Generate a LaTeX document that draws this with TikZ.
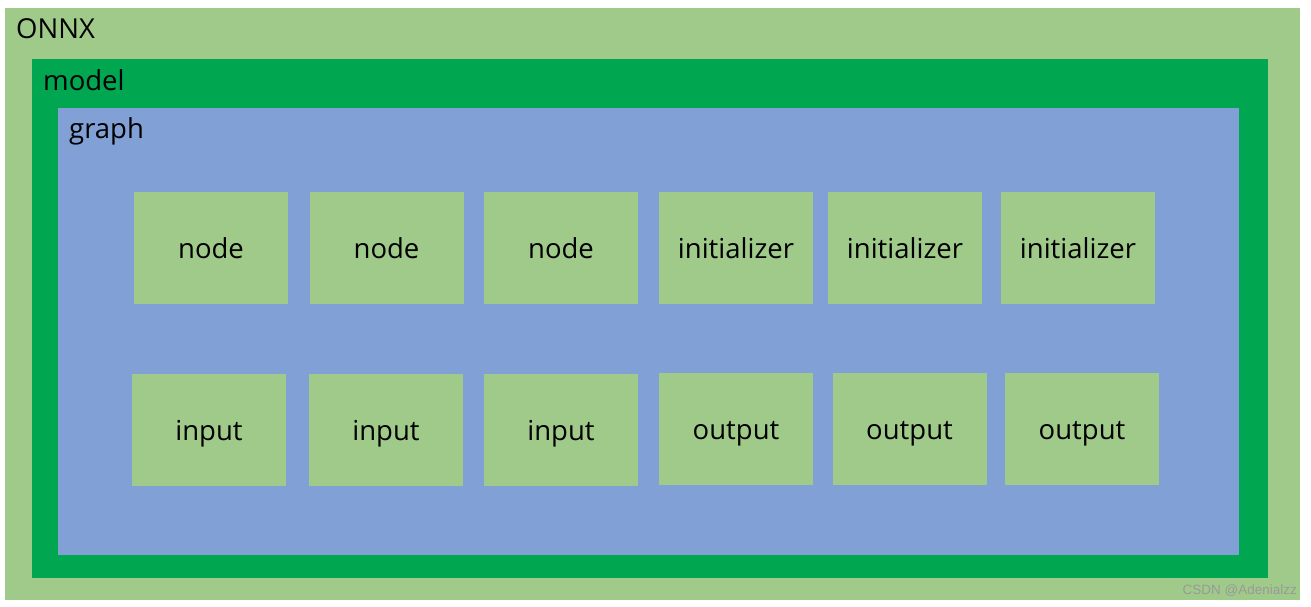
\documentclass[tikz,border=0pt]{standalone}
\usepackage{fontspec}
\setmainfont{Open Sans}
\newfontfamily\wmfont{Liberation Sans}
\definecolor{lgreen}{RGB}{160,202,138}
\definecolor{dgreen}{RGB}{0,166,80}
\definecolor{gblue}{RGB}{128,160,214}
\tikzset{
  layer/.style={rectangle, anchor=north west, inner sep=0pt, draw=none},
  lbl/.style={anchor=base west, inner sep=0pt, font=\fontsize{27.5}{30}\selectfont},
  itembox/.style={rectangle, fill=lgreen, inner sep=0pt, minimum width=154pt, minimum height=112pt,
    text height=20pt, text depth=0pt, font=\fontsize{27.5}{30}\selectfont}
}
\begin{document}
\begin{tikzpicture}[x=1pt,y=-1pt]
\useasboundingbox[fill=white] (0,0) rectangle (1311,606);
\node[layer, fill=lgreen, minimum width=1295pt, minimum height=592pt] (onnx) at (5,8) {};
\node[layer, fill=dgreen, minimum width=1236pt, minimum height=519pt] (model) at (32,59) {};
\node[layer, fill=gblue, minimum width=1181pt, minimum height=447pt] (graph) at (58,108) {};
\node[lbl] (onnxlbl) at (16,38) {ONNX};
\node[lbl] (modellbl) at (43,90) {model};
\node[lbl] (graphlbl) at (69,138) {graph};
\node[itembox] (n1) at (211,248) {node};
\node[itembox] (n2) at (386.5,248) {node};
\node[itembox] (n3) at (561,248) {node};
\node[itembox] (i1) at (736,248) {initializer};
\node[itembox] (i2) at (905,248) {initializer};
\node[itembox] (i3) at (1078,248) {initializer};
\node[itembox] (in1) at (209,430) {input};
\node[itembox] (in2) at (386,430) {input};
\node[itembox] (in3) at (561,430) {input};
\node[itembox] (o1) at (736,429) {output};
\node[itembox] (o2) at (909.5,429) {output};
\node[itembox] (o3) at (1082,429) {output};
\node[anchor=base east, inner sep=0pt, text=black!40, font=\wmfont\fontsize{13.5}{15}\selectfont] (wm) at (1297,594) {CSDN @Adenialzz};
\end{tikzpicture}
\end{document}
